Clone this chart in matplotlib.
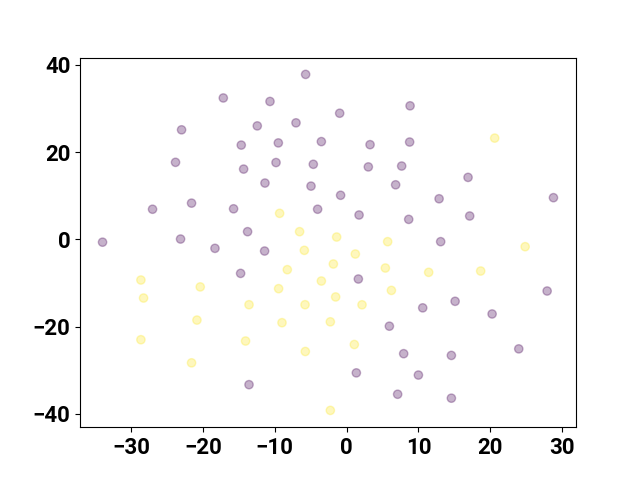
import numpy as np
import matplotlib
matplotlib.use("Agg")
import matplotlib.pyplot as plt

plt.rcParams['font.family'] = ['Roboto', 'DejaVu Sans']

# purple group (label 0)
x0 = [-5.71, -17.17, -10.67, -22.98, -12.44, -7.05, -3.52, -14.67, -9.51, -23.82,
      -14.34, -9.83, -4.64, -11.37, -4.96, -27.02, -21.59, -15.74, -4.04, -13.79,
      -33.98, -23.12, -0.97, 8.83, 3.26, 8.77, 3.02, 7.66, 16.9, 6.82,
      -0.84, 12.87, 28.79, 1.73, 8.64, 17.13, 13.09, -18.33, -11.42, -14.76,
      -13.59, 1.63, 27.91, 10.59, 15.1, 20.25, 5.95, 7.94, 14.58, 23.96,
      1.35, 9.99, 7.1, 14.58]
y0 = [37.8, 32.4, 31.6, 25.1, 26.0, 26.7, 22.4, 21.6, 22.1, 17.65,
      16.1, 17.6, 17.2, 12.9, 12.2, 6.9, 8.3, 7.0, 6.9, 1.76,
      -0.65, 0.07, 28.9, 30.6, 21.7, 22.3, 16.6, 16.8, 14.2, 12.5,
      10.1, 9.3, 9.55, 5.58, 4.58, 5.35, -0.53, -2.06, -2.68, -7.8,
      -33.3, -9.09, -11.84, -15.7, -14.2, -17.1, -19.9, -26.2, -26.6, -25.1,
      -30.6, -31.1, -35.5, -36.4]

# yellow group (label 1)
x1 = [-9.33, -6.55, 20.61, -1.39, 5.71, 24.85, -5.89, -1.85, -8.26, -28.64,
      -20.38, -3.52, -9.47, -28.27, -13.59, -5.79, -20.84, -9.0, -2.27, -28.64,
      -14.07, -5.75, -21.59, -2.27, 1.21, 5.39, 11.42, 18.66, 6.23, -1.53,
      2.14, 1.07]
y1 = [5.96, 1.76, 23.2, 0.53, -0.53, -1.68, -2.52, -5.65, -6.95, -9.32,
      -10.9, -9.55, -11.3, -13.45, -14.98, -14.98, -18.5, -19.1, -18.9, -23.0,
      -23.3, -25.7, -28.3, -39.2, -3.36, -6.57, -7.56, -7.26, -11.7, -13.2,
      -15.0, -24.1]

xs = np.array(x0 + x1)
ys = np.array(y0 + y1)
labels = np.array([0] * len(x0) + [1] * len(x1))

plt.rcParams['xtick.labelsize'] = 16
plt.rcParams['ytick.labelsize'] = 16
plt.rcParams['font.weight'] = 'bold'

fig, ax = plt.subplots(figsize=(6.4, 4.8), dpi=100)
ax.scatter(xs, ys, c=labels, cmap='viridis', alpha=0.3)

fig.savefig('out.png')
